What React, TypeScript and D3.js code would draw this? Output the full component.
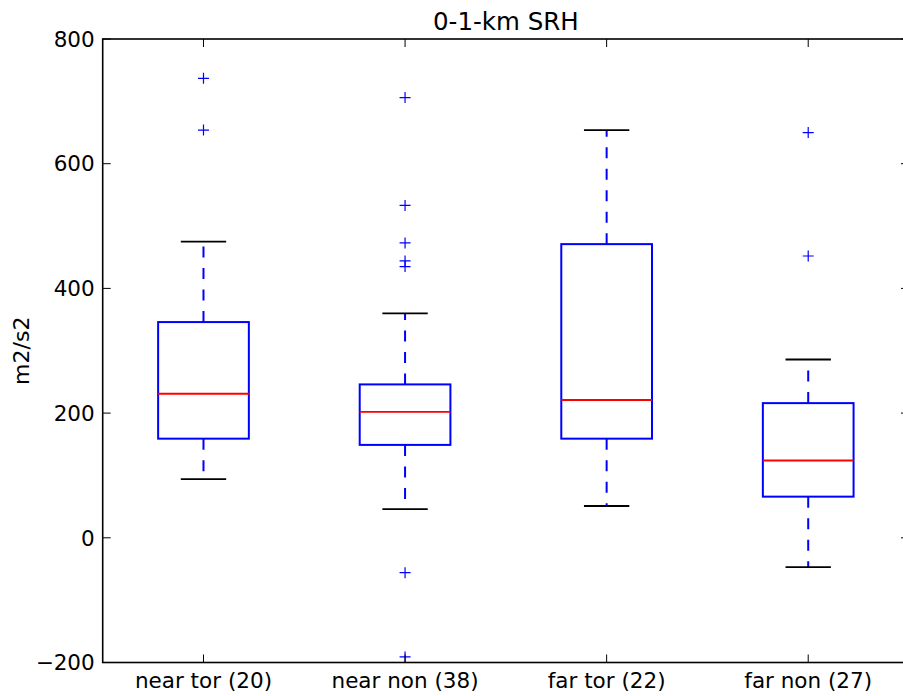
import React from "react";
import * as d3 from "d3";

const categories = ["near tor (20)", "near non (38)", "far tor (22)", "far non (27)"];
const whiskerLow = [94, 46, 51, -47];
const q1 = [159, 149, 159, 66];
const median = [231, 202, 221, 124];
const q3 = [346, 246, 471, 216];
const whiskerHigh = [475, 360, 654, 286];
const outliers: number[][] = [
  [737, 654],
  [706, 533, 473, 444, 435, -56, -191],
  [],
  [650, 452],
];
const yTicks = [-200, 0, 200, 400, 600, 800];

const W = 903;
const H = 696;
const left = 102.7;
const right = 909;
const top = 39;
const bottom = 662.5;
const FONT = "DejaVu Sans, sans-serif";

export default function App() {
  const x = d3.scaleLinear().domain([0.5, 4.5]).range([left, right]);
  const y = d3.scaleLinear().domain([-200, 800]).range([bottom, top]);
  const boxW = 0.45;
  const capW = 0.225;
  const fmt = (v: number) => (v < 0 ? "\u2212" + Math.abs(v) : String(v));

  return (
    <div style={{ position: "absolute", left: 0, top: 0 }}>
      <svg width={W} height={H} style={{ display: "block", background: "#fff" }}>
        {categories.map((c, i) => {
          const p = i + 1;
          const cx = x(p);
          const x0 = x(p - boxW / 2);
          const x1 = x(p + boxW / 2);
          const c0 = x(p - capW / 2);
          const c1 = x(p + capW / 2);
          return (
            <g key={c}>
              <line x1={cx} x2={cx} y1={y(q1[i])} y2={y(whiskerLow[i])} stroke="#0000ff" strokeWidth={2} strokeDasharray="11,10.5" />
              <line x1={cx} x2={cx} y1={y(q3[i])} y2={y(whiskerHigh[i])} stroke="#0000ff" strokeWidth={2} strokeDasharray="11,10.5" />
              <line x1={c0} x2={c1} y1={y(whiskerLow[i])} y2={y(whiskerLow[i])} stroke="#000" strokeWidth={1.8} />
              <line x1={c0} x2={c1} y1={y(whiskerHigh[i])} y2={y(whiskerHigh[i])} stroke="#000" strokeWidth={1.8} />
              <rect x={x0} y={y(q3[i])} width={x1 - x0} height={y(q1[i]) - y(q3[i])} fill="none" stroke="#0000ff" strokeWidth={2} />
              <line x1={x0} x2={x1} y1={y(median[i])} y2={y(median[i])} stroke="#ff0000" strokeWidth={1.8} />
              {outliers[i].map((v, j) => (
                <path key={j} d={`M${cx - 5.5},${y(v)}H${cx + 5.5}M${cx},${y(v) - 5.5}V${y(v) + 5.5}`} stroke="#0000ff" strokeWidth={1.2} fill="none" />
              ))}
            </g>
          );
        })}
        <rect x={left} y={top} width={right - left} height={bottom - top} fill="none" stroke="#000" strokeWidth={1.6} />
        {yTicks.map((t) => (
          <g key={t}>
            <line x1={left} x2={left + 8} y1={y(t)} y2={y(t)} stroke="#000" strokeWidth={1} />
            <line x1={right} x2={right - 8} y1={y(t)} y2={y(t)} stroke="#000" strokeWidth={1} />
            <text x={left - 8} y={y(t)} dy="0.36em" textAnchor="end" fontFamily={FONT} fontSize={21.5} fill="#000">{fmt(t)}</text>
          </g>
        ))}
        {categories.map((c, i) => (
          <g key={c}>
            <line x1={x(i + 1)} x2={x(i + 1)} y1={bottom} y2={bottom - 8} stroke="#000" strokeWidth={1} />
            <line x1={x(i + 1)} x2={x(i + 1)} y1={top} y2={top + 8} stroke="#000" strokeWidth={1} />
            <text x={x(i + 1)} y={688} textAnchor="middle" fontFamily={FONT} fontSize={21.5} fill="#000">{c}</text>
          </g>
        ))}
        <text x={(left + right) / 2} y={30} textAnchor="middle" fontFamily={FONT} fontSize={24.5} fill="#000">0-1-km SRH</text>
        <text transform={`translate(29,${(top + bottom) / 2}) rotate(-90)`} textAnchor="middle" fontFamily={FONT} fontSize={22} fill="#000">m2/s2</text>
      </svg>
    </div>
  );
}
